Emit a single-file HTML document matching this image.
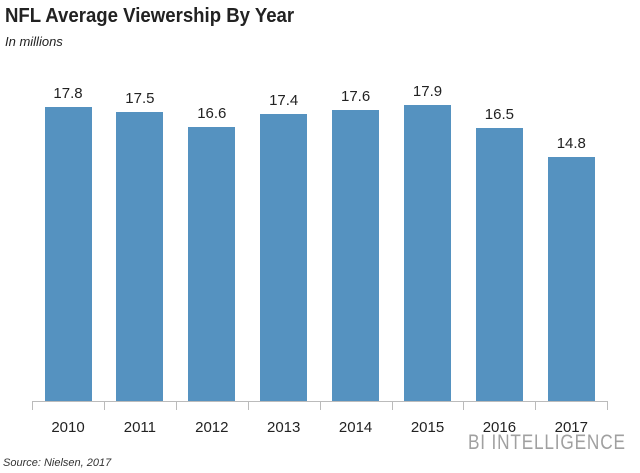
<!DOCTYPE html>
<html><head><style>
body{margin:0;width:640px;height:473px;background:#fff;font-family:"Liberation Sans",sans-serif;position:relative;overflow:hidden}
.t{position:absolute;left:5px;top:5px;font-size:20px;font-weight:bold;color:#222;white-space:nowrap;transform:scaleX(0.93);transform-origin:0 0}
.s{position:absolute;left:5px;top:34px;font-size:13px;font-style:italic;color:#222}
.bar{position:absolute;width:47px;background:#5592c0}
.v{position:absolute;width:72px;text-align:center;font-size:15px;color:#222}
.x{position:absolute;top:419px;width:72px;text-align:center;font-size:15px;color:#222}
.ax{position:absolute;left:32px;top:401px;width:575px;height:1px;background:#bbb}
.tk{position:absolute;top:401px;width:1px;height:9px;background:#bbb}
.bi{position:absolute;left:468px;top:431px;font-size:21px;color:#a0a0a0;letter-spacing:1px;white-space:nowrap;transform:scaleX(0.82);transform-origin:0 0}
.src{position:absolute;left:3px;top:457px;font-size:11px;font-style:italic;color:#333;white-space:nowrap}
</style></head><body>
<div class="t">NFL Average Viewership By Year</div>
<div class="s">In millions</div>
<div id="c"></div>
<div class="ax"></div>
<div class="bi">BI INTELLIGENCE</div>
<div class="src">Source: Nielsen, 2017</div>
<script>
var d=[17.8,17.5,16.6,17.4,17.6,17.9,16.5,14.8],h="";
for(var i=0;i<9;i++)h+='<div class="tk" style="left:'+(32+i*71.9)+'px"></div>';
for(var i=0;i<8;i++){var l=32+i*71.9,yy=401-d[i]*16.52;
h+='<div class="bar" style="left:'+(l+12.5)+'px;top:'+yy+'px;height:'+(401-yy)+'px"></div>';
h+='<div class="v" style="left:'+l+'px;top:'+(yy-22)+'px">'+d[i].toFixed(1)+'</div>';
h+='<div class="x" style="left:'+l+'px">'+(2010+i)+'</div>';}
document.getElementById('c').innerHTML=h;
</script>
</body></html>
